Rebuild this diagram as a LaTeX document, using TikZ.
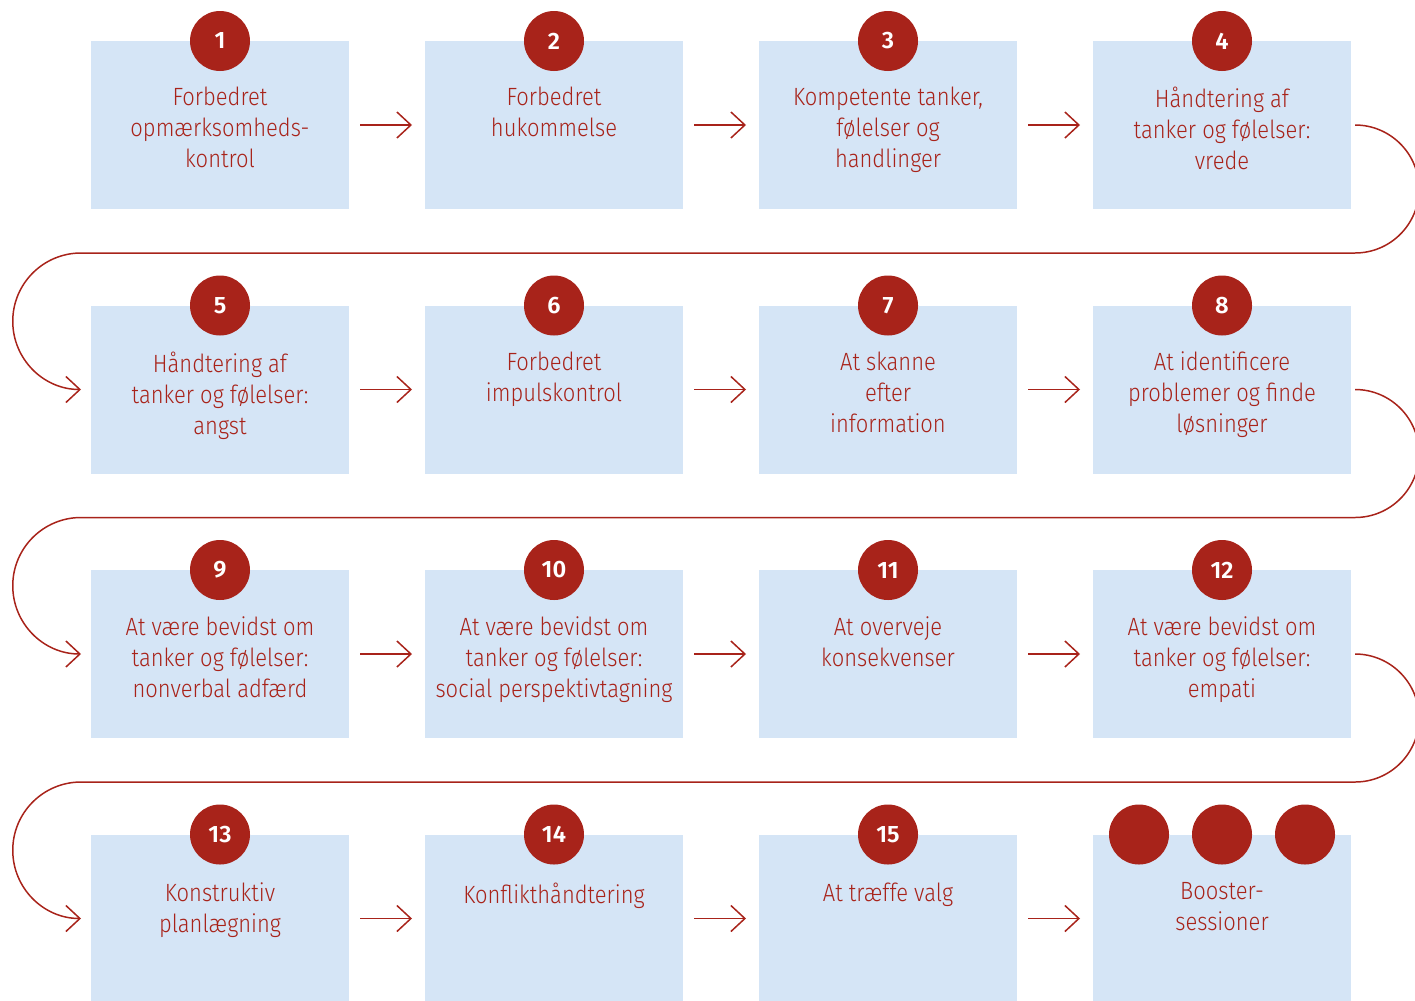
\documentclass[tikz,border=0pt]{standalone}
\usepackage{fontspec}
\setmainfont{Fira Sans}[UprightFont={* Light},BoldFont={* SemiBold},FakeStretch=0.88]
\newfontfamily\numfont{Fira Sans SemiBold}
\usepackage{tikz}
\usetikzlibrary{positioning, arrows.meta}
\definecolor{boxblue}{HTML}{D5E5F6}
\definecolor{darkred}{HTML}{A8231A}

\begin{document}
\begin{tikzpicture}[node distance=1.93cm and 1.52cm,
  box/.style={rectangle,fill=boxblue,minimum width=5.16cm,minimum height=3.36cm,inner sep=0pt,outer sep=0pt},
  num node/.style={circle,fill=darkred,minimum size=1.2cm,inner sep=0pt,text=white,font=\numfont\fontsize{13.5}{13.5}\selectfont},
  label node/.style={anchor=north,align=center,text=darkred,inner sep=0pt,font=\fontsize{14.2}{17.6}\selectfont},
  arr/.style={draw=darkred,line width=0.85pt,-{Straight Barb[length=0.28cm,width=0.52cm]}}]

\useasboundingbox (0,0) rectangle (28.3,-20);

\node[box] (b1) at (4.40,-2.50) {};
\node[box] (b2) [right=of b1] {};
\node[box] (b3) [right=of b2] {};
\node[box] (b4) [right=of b3] {};
\node[box] (b5) [below=of b1] {};
\node[box] (b6) [right=of b5] {};
\node[box] (b7) [right=of b6] {};
\node[box] (b8) [right=of b7] {};
\node[box] (b9) [below=of b5] {};
\node[box] (b10) [right=of b9] {};
\node[box] (b11) [right=of b10] {};
\node[box] (b12) [right=of b11] {};
\node[box] (b13) [below=of b9] {};
\node[box] (b14) [right=of b13] {};
\node[box] (b15) [right=of b14] {};
\node[box] (b16) [right=of b15] {};

\node[label node] (t1) [below=0.92cm of b1.north] {Forbedret\\opmærksomheds-\\kontrol};
\node[label node] (t2) [below=0.92cm of b2.north] {Forbedret\\hukommelse};
\node[label node] (t3) [below=0.92cm of b3.north] {Kompetente tanker,\\følelser og\\handlinger};
\node[label node] (t4) [below=0.92cm of b4.north] {Håndtering af\\tanker og følelser:\\vrede};
\node[label node] (t5) [below=0.92cm of b5.north] {Håndtering af\\tanker og følelser:\\angst};
\node[label node] (t6) [below=0.92cm of b6.north] {Forbedret\\impulskontrol};
\node[label node] (t7) [below=0.92cm of b7.north] {At skanne\\efter\\information};
\node[label node] (t8) [below=0.92cm of b8.north] {At identificere\\problemer og finde\\løsninger};
\node[label node] (t9) [below=0.92cm of b9.north] {At være bevidst om\\tanker og følelser:\\nonverbal adfærd};
\node[label node] (t10) [below=0.92cm of b10.north] {At være bevidst om\\tanker og følelser:\\social perspektivtagning};
\node[label node] (t11) [below=0.92cm of b11.north] {At overveje\\konsekvenser};
\node[label node] (t12) [below=0.92cm of b12.north] {At være bevidst om\\tanker og følelser:\\empati};
\node[label node] (t13) [below=0.96cm of b13.north] {Konstruktiv\\planlægning};
\node[label node] (t14) [below=0.96cm of b14.north] {Konflikthåndtering};
\node[label node] (t15) [below=0.96cm of b15.north] {At træffe valg};
\node[label node] (t16) [below=0.96cm of b16.north] {Booster-\\sessioner};

\node[num node] (n1) at (b1.north) {1};
\node[num node] (n2) at (b2.north) {2};
\node[num node] (n3) at (b3.north) {3};
\node[num node] (n4) at (b4.north) {4};
\node[num node] (n5) at (b5.north) {5};
\node[num node] (n6) at (b6.north) {6};
\node[num node] (n7) at (b7.north) {7};
\node[num node] (n8) at (b8.north) {8};
\node[num node] (n9) at (b9.north) {9};
\node[num node] (n10) at (b10.north) {10};
\node[num node] (n11) at (b11.north) {11};
\node[num node] (n12) at (b12.north) {12};
\node[num node] (n13) at (b13.north) {13};
\node[num node] (n14) at (b14.north) {14};
\node[num node] (n15) at (b15.north) {15};
\node[num node] (s1) at ([xshift=-1.66cm]b16.north) {};
\node[num node] (s2) at (b16.north) {};
\node[num node] (s3) at ([xshift=1.66cm]b16.north) {};

\draw[arr] ([xshift=0.22cm]b1.east) -- ([xshift=-0.26cm]b2.west);
\draw[arr] ([xshift=0.22cm]b2.east) -- ([xshift=-0.26cm]b3.west);
\draw[arr] ([xshift=0.22cm]b3.east) -- ([xshift=-0.26cm]b4.west);
\draw[arr] ([xshift=0.22cm]b5.east) -- ([xshift=-0.26cm]b6.west);
\draw[arr] ([xshift=0.22cm]b6.east) -- ([xshift=-0.26cm]b7.west);
\draw[arr] ([xshift=0.22cm]b7.east) -- ([xshift=-0.26cm]b8.west);
\draw[arr] ([xshift=0.22cm]b9.east) -- ([xshift=-0.26cm]b10.west);
\draw[arr] ([xshift=0.22cm]b10.east) -- ([xshift=-0.26cm]b11.west);
\draw[arr] ([xshift=0.22cm]b11.east) -- ([xshift=-0.26cm]b12.west);
\draw[arr] ([xshift=0.22cm]b13.east) -- ([xshift=-0.26cm]b14.west);
\draw[arr] ([xshift=0.22cm]b14.east) -- ([xshift=-0.26cm]b15.west);
\draw[arr] ([xshift=0.22cm]b15.east) -- ([xshift=-0.26cm]b16.west);

\draw[arr] ([xshift=0.08cm]b4.east) arc[start angle=90,end angle=-90,radius=1.28cm]
  -- ([xshift=-0.2cm,yshift=2.73cm]b5.west) arc[start angle=90,end angle=270,radius=1.365cm];
\draw[arr] ([xshift=0.08cm]b8.east) arc[start angle=90,end angle=-90,radius=1.28cm]
  -- ([xshift=-0.2cm,yshift=2.73cm]b9.west) arc[start angle=90,end angle=270,radius=1.365cm];
\draw[arr] ([xshift=0.08cm]b12.east) arc[start angle=90,end angle=-90,radius=1.28cm]
  -- ([xshift=-0.2cm,yshift=2.73cm]b13.west) arc[start angle=90,end angle=270,radius=1.365cm];

\end{tikzpicture}
\end{document}
